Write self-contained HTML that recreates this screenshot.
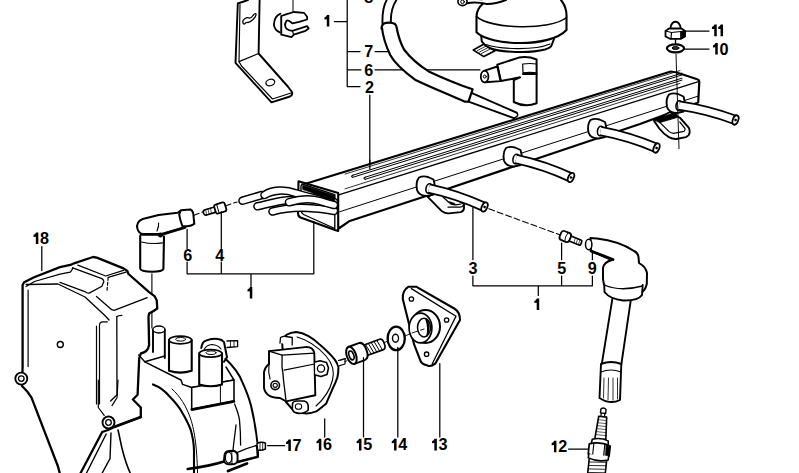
<!DOCTYPE html>
<html><head><meta charset="utf-8"><style>
html,body{margin:0;padding:0;background:#fff;}
svg{display:block;}
text{font-family:"Liberation Sans",sans-serif;font-weight:bold;fill:#000;stroke:none;}
</style></head><body>
<svg width="799" height="473" viewBox="0 0 799 473" stroke="#000" stroke-linejoin="round" stroke-linecap="round">
<path d="M248,0 L237.8,3.5 L235.5,62.8 L271.5,102.3 L290,96.5 Q293,95 292,92 L287.8,86.5 L258.6,53.5 L259.6,0" stroke-width="1.9" fill="#fff" />
<path d="M240,4.6 L239,61.6 L258.6,53.5" stroke-width="1.15" fill="none" />
<path d="M239,61.6 L241.5,66 L272.5,99 L291,93" stroke-width="1.15" fill="none" />
<path d="M243,22.5 Q242,20.5 245,18.5 Q247.5,17 249,18 Q251,18.5 253,15.5 Q255,12.8 256,14 Q256.5,16 253,19.5 Q250,22.5 248,22.5 Q246,22 244.5,24 Q243.5,24.5 243,22.5 Z" stroke-width="1.3" fill="none" />
<ellipse cx="270.3" cy="82.5" rx="4.5" ry="3.2" stroke-width="1.3" fill="none" transform="rotate(-20 270.3 82.5)"/>
<line x1="293" y1="0" x2="293" y2="12.4" stroke-width="1.0" />
<path d="M281.3,16 L286,14.4 L293.8,12 L304,12.8 L307.1,16.7 L307.1,19.5 L299.3,21.8 L292.3,23.4 Q288,19.5 286.8,20.6 Q284.5,23 285.2,26 Q285.5,30 292.3,30.8 L307.1,26.1 L308.7,28.5 L305.6,30.8 L293.8,34.7 L291.5,37.1 L281.3,34.7 Z" stroke-width="1.8" fill="#fff" />
<path d="M280.5,13.6 Q274.3,16 273.9,24.6 Q274.5,30 279.7,32.4" stroke-width="1.8" fill="none" />
<line x1="281.3" y1="16" x2="281.3" y2="34.7" stroke-width="1.3" />
<path d="M292.3,30.8 L293.8,34.7" stroke-width="1.15" fill="none" />
<path d="M327.00,14.90 L329.30,14.90 L329.30,26.50 L326.80,26.50 L326.80,19.20 L324.50,19.40 L324.50,17.40 Q326.40,16.50 327.00,14.90 Z" fill="#000" stroke="none"/>
<text x="368.70" y="57" font-size="16.2" text-anchor="middle">7</text>
<text x="368.80" y="75.5" font-size="16.2" text-anchor="middle">6</text>
<text x="369.50" y="93" font-size="16.2" text-anchor="middle">2</text>
<text x="368.80" y="3" font-size="16.2" text-anchor="middle">8</text>
<path d="M334.4,21.6 H347.2 M347.2,0 V86.5 M347.2,51.6 H360 M347.2,69.8 H361 M347.2,86.5 H360" stroke-width="1.25" fill="none" />
<path d="M375,51.6 H389 M375,69.8 H480" stroke-width="1.25" fill="none" />
<path d="M369.8,95 V169" stroke-width="1.25" fill="none" />
<path d="M386.7,0 Q382,8 382.5,24" stroke-width="1.9" fill="none" />
<path d="M396.4,0 Q390.5,9 390.9,22" stroke-width="1.9" fill="none" />
<path d="M381.5,28.7 Q381.5,23.5 386,22.8 Q392,22 395,24 Q396.5,25.5 396.6,27.5 C398,35 400,42 404,49.5 C412,60 420,66 428.7,71.4 C445,79 460,85 472.6,89.3 L468.5,101.6 L464.4,101.6 C445,93 428,86 415,79.7 C402,70 394,62 390.2,55 C386,46 383,37 382,28 Z" stroke-width="2.2" fill="#fff" />
<path d="M472.6,93.4 L516.6,112.6 M468.5,101.6 L513.8,118.1" stroke-width="2.0" fill="none" />
<path d="M516.6,112.6 Q520,116 513.8,118.1" stroke-width="1.4" fill="none" />
<path d="M484,44 L473.3,50 L483.8,56.6 L495,50.7 Z" stroke-width="1.7" fill="#fff" />
<path d="M477.5,50.5 L486.5,45.8 M479.5,52 L488.5,47.3 M481.5,53.5 L490.5,48.8" stroke-width="0.8" fill="none" />
<path d="M481.2,36 L481.8,41.5 Q485,46 489.7,48 C500,52.5 530,53.5 545,49.5 Q551,47.5 551.5,45.5 L554,39" stroke-width="2.0" fill="#fff" />
<path d="M486,44.5 C500,49.5 535,50.5 550,44" stroke-width="1.15" fill="none" />
<path d="M483,3.5 C478,8 476.5,12 476.5,16.6 L476.5,32.3 C490,46 550,48 566.5,30 L566.5,17.5 C567,10 565,5 561,0" stroke-width="2.1" fill="#fff" />
<path d="M476.5,16.6 C490,29 550,31 566.5,17.5" stroke-width="1.6" fill="none" />
<ellipse cx="462.5" cy="1.8" rx="4.6" ry="3.8" stroke-width="1.6" fill="#fff"/>
<circle cx="462.5" cy="1.8" r="1.8" stroke-width="1.0" fill="none"/>
<path d="M466,-1.5 L482,-0.5" stroke-width="1.55" fill="none" />
<path d="M466.7,3.2 Q476,1.5 486.8,4 Q495,4.2 506,0" stroke-width="2.0" fill="none" />
<path d="M518.9,57.6 Q528,56 536.6,59.5 L536.6,103.3 Q525,108 513.8,102 L513.8,80 L520,77.3 L501,81.1 L497.3,64.6 L513.1,59.5 Z" stroke-width="2.0" fill="#fff" />
<path d="M522.7,64 Q530,63 536.6,64 M522.7,64 L523,72.8 M523,72.8 Q530,72 536.6,72.8" stroke-width="1.2" fill="none" />
<path d="M523,74 L536.6,74" stroke-width="2.0" fill="none" />
<path d="M484,70.9 L497.3,66.5 L500.5,81.1 L485.2,82.3 Z" stroke-width="1.9" fill="#fff" />
<ellipse cx="484.6" cy="76.6" rx="3.8" ry="5.7" stroke-width="1.8" fill="#fff"/>
<circle cx="484.8" cy="76.6" r="1.5" stroke-width="1.0" fill="none"/>
<path d="M300,185.5 L670.8,71.5 Q676,72 681.3,74 L697.2,79.3 Q699.5,80 699.3,82 L698.2,102.5 L640,124 L430,194.7 L349,221.3 L339.5,228 Z" stroke-width="2.2" fill="#fff" />
<line x1="339.5" y1="194.7" x2="699.3" y2="81.4" stroke-width="1.4" />
<line x1="339.5" y1="211.8" x2="698.5" y2="96" stroke-width="1.0" />
<path d="M345.0,174.1 L680.0,70.6" stroke-width="0.8" fill="none" />
<path d="M345.0,188.8 L680.0,83.4" stroke-width="0.8" fill="none" />
<path d="M352.8,175.2 L682.0,73.1" stroke-width="1.0" fill="none" />
<path d="M352.8,177.3 L682.0,74.9" stroke-width="1.0" fill="none" />
<path d="M352.8,175.2 Q350.3,176.3 352.8,177.3" stroke-width="1.2" fill="none" />
<path d="M365.2,177.2 L682.0,78.2" stroke-width="1.0" fill="none" />
<path d="M365.2,179.3 L682.0,80.1" stroke-width="1.0" fill="none" />
<path d="M365.2,177.2 Q362.7,178.3 365.2,179.3" stroke-width="1.2" fill="none" />
<path d="M369.8,160 V169" stroke-width="1.25" fill="none" />
<path d="M298.5,181.2 L338.2,193 L338.2,231 L335,230 L300.5,217.5 Q298,216.5 298,213 Z" stroke-width="2.1" fill="#fff" />
<path d="M302,184 L334.8,194.7 L334.8,228.5 L303.5,214.5 Q301,213 301,210 L301,186 Z" stroke-width="1.35" fill="#fff" />
<path d="M242.5,200.7 L262,195" stroke-width="8.6" fill="none" stroke-linecap="round"/>
<path d="M242.5,200.7 L262,195" stroke-width="5.6" stroke="#fff" fill="none" stroke-linecap="round"/>
<path d="M264.5,195 C272,190 285,189 295,193 C305,196 320,200 334,202" stroke-width="8.6" fill="none" stroke-linecap="round"/>
<path d="M264.5,195 C272,190 285,189 295,193 C305,196 320,200 334,202" stroke-width="5.6" stroke="#fff" fill="none" stroke-linecap="round"/>
<path d="M257.5,206.3 C268,204 280,200 292,200 C305,200 320,203 334,207" stroke-width="8.6" fill="none" stroke-linecap="round"/>
<path d="M257.5,206.3 C268,204 280,200 292,200 C305,200 320,203 334,207" stroke-width="5.6" stroke="#fff" fill="none" stroke-linecap="round"/>
<path d="M272.5,211.5 C285,208 300,207 315,208.5 C322,209 328,210 334,211" stroke-width="8.6" fill="none" stroke-linecap="round"/>
<path d="M272.5,211.5 C285,208 300,207 315,208.5 C322,209 328,210 334,211" stroke-width="5.6" stroke="#fff" fill="none" stroke-linecap="round"/>
<path d="M289,202.3 C300,199 310,198 320,201 C326,203 330,204 334,205" stroke-width="8.6" fill="none" stroke-linecap="round"/>
<path d="M289,202.3 C300,199 310,198 320,201 C326,203 330,204 334,205" stroke-width="5.6" stroke="#fff" fill="none" stroke-linecap="round"/>
<path d="M303,185.5 L334.8,195.5 L334.8,201.5 Q326,199.5 318,195.5 Q310,191.5 303,189.5 Z" stroke-width="0.8" fill="#000" />
<path d="M427.7,196.9 L442,211.3 Q445,213.5 448.8,213.4 L460.6,212.1 Q464,211 464,207.9 L464,204 L440,190 Z" stroke-width="1.9" fill="#fff" />
<path d="M442.9,197 L449,202.5 Q452,205 456,204.8 L461,204" stroke-width="1.2" fill="none" />
<path d="M448,207.2 L460,207.2 Q462.5,207 463,205.5" stroke-width="1.2" fill="none" />
<path d="M449.5,201.5 L455,203.5 L455,205 L451,204.5 Z" stroke-width="0.5" fill="#000" />
<path d="M654,120.9 L659.3,128.5 Q664,134.5 668.8,137.1 Q672.5,139.2 676.4,139 L685.9,137.1 Q689.5,135.5 689.7,132.3 Q689.8,129.5 688.7,127.6 L680.2,118 L670,112 Z" stroke-width="1.9" fill="#fff" />
<path d="M658.3,120.9 L668.8,131.4 Q671,133.3 673.5,133.3 L684,131.4 Q685.5,130 685,128.5 L679.7,121.9" stroke-width="1.2" fill="none" />
<path d="M653.5,119.5 L676.4,112.3 L677,117.5 L660,122.5 Z" stroke-width="0.8" fill="#000" />
<path d="M419,177.5 Q423,175.5 428,177 L433.5,179.5 Q436,187 433.5,194.5 L427,196 Q419,196 417,190 Q415.5,182 419,177.5 Z" stroke-width="1.9" fill="#fff" />
<ellipse cx="429" cy="188.5" rx="3" ry="4.8" stroke-width="1.6" fill="#fff" transform="rotate(12.19174846685392 429 188.5)"/>
<path d="M429,188.5 Q457.8,194.7 484.5,207" stroke-width="10.2" fill="none" stroke-linecap="butt"/>
<path d="M429,188.5 Q457.8,194.7 484.5,207" stroke-width="6.8" stroke="#fff" fill="none" stroke-linecap="butt"/>
<ellipse cx="484.5" cy="207" rx="2.7" ry="4.9" stroke-width="1.8" fill="#fff" transform="rotate(24.678149178990093 484.5 207)"/>
<circle cx="484.5" cy="207" r="0.9" stroke-width="0.8" fill="#000"/>
<path d="M506,148.0 Q510,146.0 515,147.5 L520.5,150.0 Q523,157.5 520.5,165.0 L514,166.5 Q506,166.5 504,160.5 Q502.5,152.5 506,148.0 Z" stroke-width="1.9" fill="#fff" />
<ellipse cx="516" cy="159.0" rx="3" ry="4.8" stroke-width="1.6" fill="#fff" transform="rotate(12.29726412321531 516 159.0)"/>
<path d="M516,159.0 Q544.5,165.2 571,177.5" stroke-width="10.2" fill="none" stroke-linecap="butt"/>
<path d="M516,159.0 Q544.5,165.2 571,177.5" stroke-width="6.8" stroke="#fff" fill="none" stroke-linecap="butt"/>
<ellipse cx="571" cy="177.5" rx="2.7" ry="4.9" stroke-width="1.8" fill="#fff" transform="rotate(24.88487133034532 571 177.5)"/>
<circle cx="571" cy="177.5" r="0.9" stroke-width="0.8" fill="#000"/>
<path d="M590.5,120.0 Q594.5,118.0 599.5,119.5 L605.0,122.0 Q607.5,129.5 605.0,137.0 L598.5,138.5 Q590.5,138.5 588.5,132.5 Q587.0,124.5 590.5,120.0 Z" stroke-width="1.9" fill="#fff" />
<ellipse cx="600.5" cy="131.0" rx="3" ry="4.8" stroke-width="1.6" fill="#fff" transform="rotate(10.645851737578989 600.5 131.0)"/>
<path d="M600.5,131.0 Q629.4,136.4 656.5,148" stroke-width="10.2" fill="none" stroke-linecap="butt"/>
<path d="M600.5,131.0 Q629.4,136.4 656.5,148" stroke-width="6.8" stroke="#fff" fill="none" stroke-linecap="butt"/>
<ellipse cx="656.5" cy="148" rx="2.7" ry="4.9" stroke-width="1.8" fill="#fff" transform="rotate(23.12773051030908 656.5 148)"/>
<circle cx="656.5" cy="148" r="0.9" stroke-width="0.8" fill="#000"/>
<path d="M669,94.5 Q673,92.5 678,94 L683.5,96.5 Q686,104 683.5,111.5 L677,113 Q669,113 667,107 Q665.5,99 669,94.5 Z" stroke-width="1.9" fill="#fff" />
<ellipse cx="679" cy="105.5" rx="3" ry="4.8" stroke-width="1.6" fill="#fff" transform="rotate(8.132215950046472 679 105.5)"/>
<path d="M679,105.5 Q708.0,109.7 735.5,120" stroke-width="10.2" fill="none" stroke-linecap="butt"/>
<path d="M679,105.5 Q708.0,109.7 735.5,120" stroke-width="6.8" stroke="#fff" fill="none" stroke-linecap="butt"/>
<ellipse cx="735.5" cy="120" rx="2.7" ry="4.9" stroke-width="1.8" fill="#fff" transform="rotate(20.654969986934578 735.5 120)"/>
<circle cx="735.5" cy="120" r="0.9" stroke-width="0.8" fill="#000"/>
<line x1="675.5" y1="38" x2="675.5" y2="45" stroke-width="1.4" />
<path d="M670.2,29.5 Q670.5,25 672.5,23 Q675.5,20.5 678.5,23 Q680.5,25 681,29.5 Z" stroke-width="1.8" fill="#fff" />
<path d="M665.5,31 L669,28.5 L681.5,28.5 L685,31 L685,36.5 L681,38.8 L670,38.8 L665.5,36.5 Z" stroke-width="1.8" fill="#fff" />
<path d="M665.5,31 L671.5,32.5 L681,31.5 L685,31 M671.5,32.5 L671,38.8" stroke-width="1.2" fill="none" />
<path d="M681,31.5 L685,31 L685,36.5 L681,38.8 Z" stroke-width="1.0" fill="#000" />
<ellipse cx="675.5" cy="48.3" rx="8.6" ry="4.0" stroke-width="2.2" fill="#fff"/>
<ellipse cx="675.5" cy="48.0" rx="3.4" ry="1.5" stroke-width="1.0" fill="#333"/>
<path d="M685,31 H709 M684.5,49 H709" stroke-width="1.25" fill="none" />
<path d="M714.45,24.60 L716.75,24.60 L716.75,36.20 L714.25,36.20 L714.25,28.90 L711.95,29.10 L711.95,27.10 Q713.85,26.20 714.45,24.60 Z" fill="#000" stroke="none"/>
<path d="M720.75,24.60 L723.05,24.60 L723.05,36.20 L720.55,36.20 L720.55,28.90 L718.25,29.10 L718.25,27.10 Q720.15,26.20 720.75,24.60 Z" fill="#000" stroke="none"/>
<path d="M715.45,42.90 L717.75,42.90 L717.75,54.50 L715.25,54.50 L715.25,47.20 L712.95,47.40 L712.95,45.40 Q714.85,44.50 715.45,42.90 Z" fill="#000" stroke="none"/>
<text x="724.00" y="54.5" font-size="16.2" text-anchor="middle">0</text>
<line x1="676" y1="54" x2="679" y2="148.7" stroke-width="0.95" />
<path d="M140.2,236 L140.2,268.8 Q141,271.5 152.1,271.8 Q162.5,271.5 163.4,268.8 L164,236.5" stroke-width="2.1" fill="#fff" />
<path d="M141.5,242 Q151.5,244.5 162.5,242.9" stroke-width="1.2" fill="none" />
<path d="M180,211 L177.6,212.7 L158.6,215 L142.7,219 Q135.5,222 137.5,229 Q139,233.5 143,234 L161.7,234 L185.6,227 Z" stroke-width="2.0" fill="#fff" />
<path d="M141,234.5 L162,234.5 L185,227.5" stroke-width="2.6" fill="none" />
<circle cx="160.5" cy="235" r="2.3" stroke-width="0.5" fill="#000"/>
<path d="M157,231 Q159,226 158.6,223" stroke-width="1.1" fill="none" />
<path d="M180.8,210.3 L190.3,209.5 Q193.5,211 193.5,215.9 L194.3,223.8 Q192,226 186.3,226.2 L182.4,226.2 Q180,220 179.2,214.3 Z" stroke-width="2.0" fill="#fff" />
<path d="M193.5,215.5 L203,211.8" stroke-width="1.05" fill="none" stroke-dasharray="6 3"/>
<g transform="translate(215,209.6) rotate(-17)">
<rect x="-12" y="-2.7" width="13" height="5.4" rx="2.5" stroke-width="1.6" fill="#fff"/>
<path d="M-9,-2.5 L-9.5,2.5 M-6.5,-2.5 L-7,2.5 M-4,-2.5 L-4.5,2.5" stroke-width="0.6" fill="none" />
<rect x="0" y="-4.7" width="11" height="9.4" rx="2" stroke-width="1.8" fill="#fff"/>
<line x1="3" y1="-4.5" x2="3" y2="4.5" stroke-width="0.9" />
</g>
<path d="M225.2,206 L237,202" stroke-width="1.05" fill="none" stroke-dasharray="6 3"/>
<text x="187.70" y="261" font-size="16.2" text-anchor="middle">6</text>
<text x="219.70" y="261" font-size="16.2" text-anchor="middle">4</text>
<path d="M187.1,229.4 V248.5 M221.3,211.7 V248.5" stroke-width="1.25" fill="none" />
<path d="M187.1,262 V273.8 H313.8 V221.3 M221.3,262 V273.8 M251,273.8 V286.5" stroke-width="1.25" fill="none" />
<path d="M250.00,287.00 L252.30,287.00 L252.30,298.60 L249.80,298.60 L249.80,291.30 L247.50,291.50 L247.50,289.50 Q249.40,288.60 250.00,287.00 Z" fill="#000" stroke="none"/>
<path d="M488.8,208.8 L560.3,235" stroke-width="1.05" fill="none" stroke-dasharray="6 3"/>
<g transform="translate(566,236.8) rotate(22)">
<rect x="3.5" y="-2.7" width="13" height="5.4" rx="1.5" stroke-width="1.6" fill="#fff"/>
<path d="M9,-2.5 L9.5,2.5 M11.5,-2.5 L12,2.5 M14,-2.5 L14.5,2.5" stroke-width="0.6" fill="none" />
<rect x="-6" y="-4.8" width="10.5" height="9.6" rx="3" stroke-width="1.8" fill="#fff"/>
<path d="M0.5,-4.5 Q-1,0 0.5,4.5" stroke-width="0.9" fill="none" />
</g>
<text x="473.10" y="273.7" font-size="16.2" text-anchor="middle">3</text>
<text x="561.80" y="273.7" font-size="16.2" text-anchor="middle">5</text>
<text x="592.30" y="273.7" font-size="16.2" text-anchor="middle">9</text>
<path d="M472.9,207.5 V259.7 M561.6,243 V259.7 M592.4,250 V259.7" stroke-width="1.25" fill="none" />
<path d="M472.9,276 V285.8 H592.4 V276 M561.6,276 V285.8 M538.3,285.8 V295.4" stroke-width="1.25" fill="none" />
<path d="M536.90,298.50 L539.20,298.50 L539.20,310.10 L536.70,310.10 L536.70,302.80 L534.40,303.00 L534.40,301.00 Q536.30,300.10 536.90,298.50 Z" fill="#000" stroke="none"/>
<path d="M612.6,297.4 L601.7,364.7 M631.2,297.4 L621.3,364.7" stroke-width="1.9" fill="none" />
<path d="M590.5,238 L597,238.5 C610,240 625,245 634,251 Q638,253 638.5,257 L639,263 Q646,267 647,273 L646.8,284 Q645,291 641,292.6 L606,288 Q603,284 603,279 L603,268 Q604,262 612,260 L591,251 Z" stroke-width="2.0" fill="#fff" />
<path d="M591,251 L613,259.5" stroke-width="2.8" fill="none" />
<path d="M604.2,284.4 L604.5,292 Q610,299 623,300.5 Q638,301 642,295 L642.7,285" stroke-width="1.9" fill="#fff" />
<path d="M604.3,285 Q620,292 642.5,286" stroke-width="1.3" fill="none" />
<ellipse cx="588.7" cy="244.5" rx="3.2" ry="5.2" stroke-width="1.5" fill="#fff"/>
<path d="M601,364 L599.5,398 Q610,405 620,400 L621.3,364 Q611,360 601,364 Z" stroke-width="1.9" fill="#fff" />
<path d="M601,372 Q611,368 621,372" stroke-width="1.15" fill="none" />
<path d="M604,378 L603.5,398 M608.5,378 L608,400 M613,378 L613,400 M617.5,378 L617.5,399" stroke-width="0.8" fill="none" />
<g transform="translate(599.3,449) rotate(6)">
<path d="M-2.6,-36 L-2.6,-40 Q0,-42.5 2.6,-40 L2.6,-36 Z" stroke-width="1.4" fill="#fff" />
<path d="M-1.8,-36 L-1.8,-32.5 M1.8,-36 L1.8,-32.5" stroke-width="1.2" fill="none" />
<path d="M-4,-32.5 L4,-32.5 L5.5,-10 L-5.5,-10 Z" stroke-width="1.6" fill="#fff" />
<path d="M-4.2,-29 H4.2 M-4.4,-26 H4.4 M-4.6,-23 H4.6 M-4.8,-20 H4.8 M-5,-17 H5 M-5.2,-14 H5.2" stroke-width="0.6" fill="none" />
<path d="M-8.5,-5 L-8,-9 Q0,-12 8,-9 L8.5,-5" stroke-width="1.6" fill="#fff" />
<path d="M-10.5,-4 Q0,-8 10.5,-4 L10.5,6 Q0,10 -10.5,6 Z" stroke-width="1.7" fill="#fff" />
<path d="M-6,-6 L-6,8 M5,-6 L5,8" stroke-width="1.1" fill="none" />
<path d="M6.5,-5.5 Q9,-5 10.5,-4 L10.5,6 Q9,7 6.5,7.5 Z" stroke-width="0.5" fill="#000" />
<path d="M-10,6 L-10,10 Q0,13.5 10,10 L10,6" stroke-width="1.6" fill="#fff" />
<path d="M-9,11 L-9,30 M8.5,11 L8.5,30" stroke-width="1.6" fill="none" />
<path d="M-9,14 L8.5,12.5 M-9,17.5 L8.5,16 M-9,21 L8.5,19.5 M-9,24.5 L8.5,23 M-9,28 L8.5,26.5" stroke-width="0.8" fill="none" />
</g>
<path d="M568.5,449 H588.6" stroke-width="1.25" fill="none" />
<path d="M554.15,440.70 L556.45,440.70 L556.45,452.30 L553.95,452.30 L553.95,445.00 L551.65,445.20 L551.65,443.20 Q553.55,442.30 554.15,440.70 Z" fill="#000" stroke="none"/>
<text x="562.70" y="452.3" font-size="16.2" text-anchor="middle">2</text>
<line x1="151.9" y1="273.8" x2="151.9" y2="328" stroke-width="1.1" />
<path d="M36.05,232.40 L38.35,232.40 L38.35,244.00 L35.85,244.00 L35.85,236.70 L33.55,236.90 L33.55,234.90 Q35.45,234.00 36.05,232.40 Z" fill="#000" stroke="none"/>
<text x="44.60" y="244" font-size="16.2" text-anchor="middle">8</text>
<line x1="41.8" y1="246.6" x2="41.8" y2="270.6" stroke-width="1.25" />
<path d="M24.1,282.2 L34.1,277.3 L60,267.1 L71.4,264.6 Q73,263.5 74,263.3 L93,257 L96.8,257.6 L123.5,268.4 L127.3,271 L128.5,274 L148.8,291.9 L154.8,296.4 L156.7,300.2 L157.3,308.5 L153.5,311 L149.1,313.5 L148.5,316.7 L149.1,345 Q148,352 140.8,353.5 L139.2,358.3 L137.6,394.8 L132.9,399.5 L140.8,407.5 L140.8,417 L115.4,426.5 L108,430 L102.2,432 L78,478 L61,478 L58,466.5 L31.5,397.7 L27.5,391.8 L22,386 L22.6,366.6 L22.6,285 Z" stroke-width="2.3" fill="#fff" />
<path d="M115.4,426.5 L140.8,417" stroke-width="2.8" fill="none" />
<circle cx="21.3" cy="378.6" r="6" stroke-width="1.9" fill="#fff"/>
<circle cx="21.3" cy="378.6" r="2.8" stroke-width="1.3" fill="none"/>
<circle cx="108.5" cy="422.5" r="6" stroke-width="1.9" fill="#fff"/>
<circle cx="108.5" cy="422.5" r="2.8" stroke-width="1.3" fill="none"/>
<circle cx="60.3" cy="344.5" r="3" stroke-width="1.4" fill="none"/>
<path d="M106.2,434 L86.5,473 M111,433 L110,458.6 L102.2,473" stroke-width="1.4" fill="none" />
<path d="M26,286.5 L34.5,281.5 L60,274.1 L70.2,272.2 Q72.5,270 72.7,267.8" stroke-width="1.3" fill="none" />
<path d="M28.1,290 L28.1,366.6" stroke-width="1.2" fill="none" />
<path d="M77.8,265.2 L105.7,276 L123.5,270.3" stroke-width="1.3" fill="none" />
<path d="M72.7,267.8 L101.9,278.6 Q104,280 103.8,281.7 L101.9,286.2 L89.2,293.1 Q87,293.5 85.4,291.9 L60,282.4" stroke-width="1.3" fill="none" />
<path d="M108.2,277.3 L107,291" stroke-width="1.2" fill="none" stroke-dasharray="3 2"/>
<path d="M108.2,277.3 L126,272.2" stroke-width="1.2" fill="none" />
<path d="M26.1,284.5 L58,284 L85,297 L105.4,316 L109,320" stroke-width="1.3" fill="none" />
<path d="M96.5,296.4 L111.7,309.7 L114.2,310.4 L147.2,297.7" stroke-width="1.3" fill="none" />
<path d="M99.5,404 L99.5,325 Q99.5,322 103,321.8 L107.3,321.8 M96.5,326 L96.5,404" stroke-width="1.2" fill="none" />
<path d="M116.8,316.7 Q118,315.5 121.8,315.4 M116.8,316.7 L117,394.8 L110.6,401" stroke-width="1.3" fill="none" />
<path d="M98.3,380 L98.3,407.5 L104.2,415.4 M118,380 L117,397.7 L112,405.6" stroke-width="1.2" fill="none" />
<path d="M153,384.4 C160,387 166,392 169.6,396.5 C175,402 179,407 181.7,411.7 C186,419 189,425 190.7,429.8 C193,438 194,445 194,451 L194,473" stroke-width="2.1" fill="none" />
<path d="M118,430 C120,438 121,445 122.7,451 C125,460 127,466 130.2,473" stroke-width="1.6" fill="none" />
<path d="M172,389 C180,396 186,406 190,417 C194,428 197,445 197.5,473" stroke-width="1.0" fill="none" />
<path d="M138.7,355 L144.8,361.8" stroke-width="1.35" fill="none" />
<path d="M153,329.5 L153,352 M164.8,329.5 L164.8,358" stroke-width="1.9" fill="none" />
<ellipse cx="158.9" cy="329.5" rx="6" ry="3.5" stroke-width="1.4" fill="#fff"/>
<path d="M144.8,361.8 L164.8,356 M144.8,361.8 L181,380 L182.6,384.4 L191.7,387.5 L234,380 L226,367" stroke-width="1.45" fill="none" />
<path d="M191.7,387.5 L191.7,409.2 L234,401 L234,380 Z" stroke-width="1.55" fill="#fff" />
<line x1="220.4" y1="384.4" x2="220.4" y2="404" stroke-width="1.0" />
<path d="M191.7,409.6 L234,401.4" stroke-width="2.6" fill="none" />
<path d="M169,340 L169,370.8 Q180.3,374.5 191.7,370.8 L191.7,340" stroke-width="2.1" fill="#fff" />
<ellipse cx="180.3" cy="340" rx="11.3" ry="3.8" stroke-width="1.7" fill="#fff"/>
<ellipse cx="180.6" cy="339.3" rx="5" ry="1.8" stroke-width="1.0" fill="none"/>
<path d="M199.2,353.4 L199.2,384.4 Q210.6,388 222,384.4 L222,353.4" stroke-width="2.1" fill="#fff" />
<ellipse cx="210.6" cy="353.4" rx="11.3" ry="3.8" stroke-width="1.7" fill="#fff"/>
<ellipse cx="211" cy="352.7" rx="5" ry="1.8" stroke-width="1.0" fill="none"/>
<path d="M201.3,348 Q202,342 205.9,340.6 Q212,338 218,339 Q222,339.5 224,342 L227,357.2 L224,361.8" stroke-width="2.0" fill="none" />
<path d="M204,350 Q206,345 212,344.5 Q218,345 221,349" stroke-width="1.1" fill="none" />
<path d="M227,341 L237.6,340.6 L237.6,346.6 L227,347.5" stroke-width="1.3" fill="#fff" />
<path d="M230.5,340.8 V347.2 M234,340.7 V346.9" stroke-width="0.8" fill="none" />
<path d="M225.5,358.7 C232,365 239,373 242,381.4 C246,390 249,398 251,405.6 C254,418 256,430 257.3,442" stroke-width="2.0" fill="none" />
<path d="M234.6,404 C237,410 239,416 239.5,420 C240.5,430 240.6,440 240.6,445" stroke-width="1.3" fill="none" />
<path d="M236,425 C235,435 233.5,443 233,450.8" stroke-width="1.3" fill="none" />
<path d="M187.7,469 Q210,466 224,461.5" stroke-width="2.6" fill="none" />
<path d="M228,471 L247,463.5" stroke-width="2.8" fill="none" />
<path d="M237.5,452.3 Q247,448 256.4,445.5 L257.8,456.8 L237.5,462 Z" stroke-width="1.4" fill="#fff" />
<path d="M237.5,462 L257.8,456.8 L257.8,452" stroke-width="2.4" fill="none" />
<path d="M224.5,455 Q225,451.5 229,451 L233,450.8 Q237,451.5 237.5,455 L237.5,461 Q236.5,464.3 232,464.3 L228.5,464.3 Q224.5,464 224,460 Z" stroke-width="1.9" fill="#fff" />
<ellipse cx="228.6" cy="457.6" rx="3.2" ry="5.4" stroke-width="1.2" fill="none"/>
<path d="M231.8,451.5 L232,464" stroke-width="0.9" fill="none" />
<path d="M257,443.5 Q261,441.5 265.4,443 L265.4,449 Q261,451 257.5,450 Z" stroke-width="1.5" fill="#fff" />
<path d="M260,442.5 V450.3 M262.7,442.2 V450.3" stroke-width="0.8" fill="none" />
<path d="M267.6,445.5 H284.7" stroke-width="1.25" fill="none" />
<path d="M288.55,439.40 L290.85,439.40 L290.85,451.00 L288.35,451.00 L288.35,443.70 L286.05,443.90 L286.05,441.90 Q287.95,441.00 288.55,439.40 Z" fill="#000" stroke="none"/>
<text x="297.10" y="451" font-size="16.2" text-anchor="middle">7</text>
<path d="M282,340 Q285,333 296.2,332 C305,333 314,339 320.3,345.1 C327,351 331,355 334.4,359.2 C337,363 338.4,365 338.4,367.2 C338.4,372 338,375 337.4,377.3 C336,382 334,386 332.3,389.3 C330,395 328,399 326.3,403.4 C322,407 319,409.5 316.3,411.4 C312,413 309,413.6 306.2,413.4 C301,413 297,412.5 294.2,411.4 L286,402 Z" stroke-width="2.0" fill="#fff" />
<path d="M297,337 C308,340 318,347 326,356 C333,364 334.5,372 332.5,380 C330,390 324,399 316,406" stroke-width="1.1" fill="none" />
<path d="M280,343 L280.5,337.5 Q283,336 286,336.5 L292.2,337.5 L292.2,345" stroke-width="1.3" fill="#fff" />
<path d="M269,351.1 L305.2,347.1 Q313,346.5 314.3,353.1 L315.3,395.3 L286.1,401.4 L280,398 Q266,398 264,388 L264,372 Q265,367 269,364 Z" stroke-width="1.9" fill="#fff" />
<path d="M269,351.1 L282.1,355.1 L314.3,353.1" stroke-width="1.3" fill="none" />
<path d="M269,351.1 L269,364 M282.1,355.1 L282,367 Q283,372 283.5,380 L286.1,401.4" stroke-width="1.3" fill="none" />
<path d="M269,364 Q268,372 270,379" stroke-width="1.1" fill="none" />
<path d="M284.1,370.2 L314.6,364" stroke-width="1.2" fill="none" />
<circle cx="275.2" cy="385.3" r="4.3" stroke-width="1.6" fill="#fff"/>
<circle cx="275.2" cy="385.3" r="2.1" stroke-width="1.1" fill="none"/>
<path d="M315,362 L320,360.8 L326.5,362.5 L328.5,368 L327,374.5 L321,376.5 L315.3,375" stroke-width="1.6" fill="#fff" />
<circle cx="321" cy="368.5" r="3.6" stroke-width="1.3" fill="none"/>
<path d="M292.5,404 Q293,401 297,401 L304,401 Q308,402 308.2,406 L308.2,410 Q305,413.5 299,413.4 Q293,413 292.3,409 Z" stroke-width="1.6" fill="#fff" />
<ellipse cx="298.5" cy="406.5" rx="3.2" ry="2.8" stroke-width="1.1" fill="none"/>
<path d="M338.4,360.5 L345,358.5 L345,364 L338.4,366" stroke-width="1.2" fill="#fff" />
<path d="M345,361.5 L347,360.8" stroke-width="0.9" fill="none" stroke-dasharray="6 3"/>
<g transform="translate(358,353) rotate(-20)">
<path d="M7,-5.5 L25,-5.5 Q28,-5.5 28,0 Q28,5.5 25,5.5 L7,5.5 Z" stroke-width="1.7" fill="#fff" />
<path d="M10,-5.3 L12,5.3 M13,-5.3 L15,5.3 M16,-5.3 L18,5.3 M19,-5.3 L21,5.3 M22,-5.3 L24,5.3" stroke-width="0.9" fill="none" />
<path d="M-7,-9 L4,-9 Q9,-9 9,0 Q9,9 4,9 L-7,9" stroke-width="2.0" fill="#fff" />
<ellipse cx="-7" cy="0" rx="4.6" ry="9" stroke-width="2.0" fill="#fff"/>
<ellipse cx="-7" cy="0" rx="2.3" ry="4.6" stroke-width="1.6" fill="#fff"/>
</g>
<path d="M384,342.7 L389,340.5" stroke-width="0.9" fill="none" stroke-dasharray="6 3"/>
<path d="M340,360.5 L346,358.5" stroke-width="0.9" fill="none" stroke-dasharray="6 3"/>
<ellipse cx="396.2" cy="338.4" rx="8.6" ry="11.8" stroke-width="2.3" fill="#fff"/>
<ellipse cx="395.5" cy="338.2" rx="3" ry="4" stroke-width="1.4" fill="none"/>
<path d="M389.5,331 Q386.5,338 389.5,346" stroke-width="1.1" fill="none" />
<path d="M405,336 L412,333" stroke-width="0.9" fill="none" stroke-dasharray="6 3"/>
<path d="M408.5,286.7 L416.1,286.7 L454.2,308.5 Q460,312 460,320 L435.2,363.7 Q431,367 427.6,365.6 Q422,364 420.9,361.8 L414.2,344.7 L402.8,299 Q402,291 408.5,286.7 Z" stroke-width="2.1" fill="#fff" />
<path d="M411.4,288.6 L456,316.2 L432.3,363.7" stroke-width="1.3" fill="none" />
<circle cx="411.4" cy="299" r="2.2" stroke-width="1.3" fill="none"/>
<circle cx="446.6" cy="320" r="2.2" stroke-width="1.3" fill="none"/>
<circle cx="426.6" cy="354.2" r="2.2" stroke-width="1.3" fill="none"/>
<ellipse cx="425.5" cy="326.5" rx="14.5" ry="16.5" stroke-width="2.0" fill="#fff"/>
<ellipse cx="420.5" cy="328" rx="11.4" ry="14.8" stroke-width="1.7" fill="#fff"/>
<ellipse cx="424" cy="327.6" rx="6.5" ry="9.3" stroke-width="1.5" fill="#fff"/>
<path d="M426,319 Q431,326 427,336 Q429,328 426,319 Z" stroke-width="1.5" fill="#000" />
<path d="M412,333 L424,329" stroke-width="0.9" fill="none" stroke-dasharray="6 3"/>
<path d="M319.05,438.80 L321.35,438.80 L321.35,450.40 L318.85,450.40 L318.85,443.10 L316.55,443.30 L316.55,441.30 Q318.45,440.40 319.05,438.80 Z" fill="#000" stroke="none"/>
<text x="327.60" y="450.4" font-size="16.2" text-anchor="middle">6</text>
<path d="M359.15,438.80 L361.45,438.80 L361.45,450.40 L358.95,450.40 L358.95,443.10 L356.65,443.30 L356.65,441.30 Q358.55,440.40 359.15,438.80 Z" fill="#000" stroke="none"/>
<text x="367.70" y="450.4" font-size="16.2" text-anchor="middle">5</text>
<path d="M394.25,438.80 L396.55,438.80 L396.55,450.40 L394.05,450.40 L394.05,443.10 L391.75,443.30 L391.75,441.30 Q393.65,440.40 394.25,438.80 Z" fill="#000" stroke="none"/>
<text x="402.80" y="450.4" font-size="16.2" text-anchor="middle">4</text>
<path d="M434.55,438.80 L436.85,438.80 L436.85,450.40 L434.35,450.40 L434.35,443.10 L432.05,443.30 L432.05,441.30 Q433.95,440.40 434.55,438.80 Z" fill="#000" stroke="none"/>
<text x="443.10" y="450.4" font-size="16.2" text-anchor="middle">3</text>
<path d="M324.7,418.8 V437 M363.5,357.6 V437 M397.8,347.3 V437 M439.8,363.7 V437" stroke-width="1.25" fill="none" />
</svg>
</body></html>
